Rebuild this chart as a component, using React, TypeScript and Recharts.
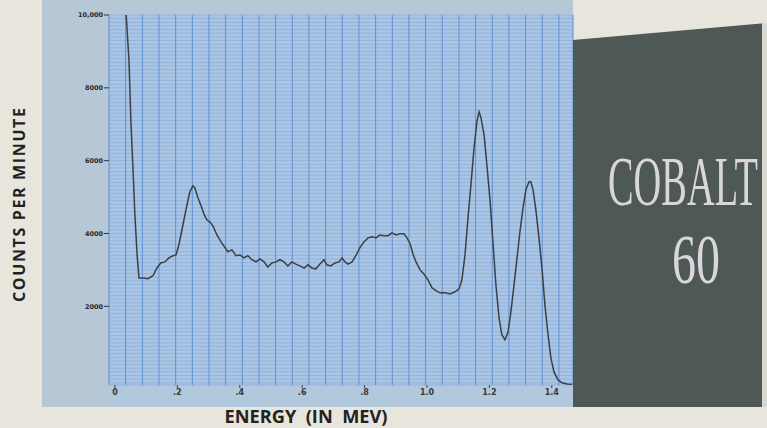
import React from 'react';
import { LineChart, Line, XAxis, YAxis, CartesianGrid } from 'recharts';

// Co-60 gamma spectrum
const energy = [
  0.036, 0.045, 0.051, 0.058, 0.064, 0.071, 0.077, 0.09, 0.106, 0.122,
  0.135, 0.147, 0.16, 0.173, 0.186, 0.196, 0.205, 0.218, 0.231, 0.24,
  0.25, 0.256, 0.266, 0.276, 0.285, 0.295, 0.304, 0.314, 0.327, 0.34,
  0.349, 0.362, 0.375, 0.388, 0.401, 0.413, 0.426, 0.439, 0.452, 0.465,
  0.478, 0.49, 0.503, 0.516, 0.529, 0.542, 0.554, 0.567, 0.58, 0.593,
  0.606, 0.619, 0.631, 0.644, 0.657, 0.67, 0.679, 0.692, 0.705, 0.718,
  0.728, 0.737, 0.747, 0.76, 0.772, 0.785, 0.798, 0.811, 0.824, 0.837,
  0.849, 0.862, 0.875, 0.888, 0.901, 0.913, 0.926, 0.936, 0.946, 0.955,
  0.965, 0.978, 0.99, 1.003, 1.016, 1.029, 1.042, 1.058, 1.074, 1.09,
  1.103, 1.112, 1.122, 1.131, 1.141, 1.151, 1.16, 1.167, 1.173, 1.183,
  1.192, 1.202, 1.212, 1.221, 1.231, 1.24, 1.25, 1.26, 1.269, 1.279,
  1.288, 1.298, 1.308, 1.317, 1.327, 1.333, 1.34, 1.349, 1.359, 1.369,
  1.378, 1.388, 1.397, 1.407, 1.42, 1.433, 1.449, 1.465,
];

const counts = [
  10000, 8770, 7120, 5750, 4510, 3420, 2780, 2780, 2760, 2840,
  3060, 3190, 3220, 3330, 3390, 3410, 3690, 4240, 4790, 5140,
  5310, 5250, 4980, 4760, 4540, 4370, 4320, 4210, 3960, 3770,
  3660, 3500, 3550, 3390, 3410, 3330, 3390, 3280, 3220, 3300,
  3220, 3080, 3190, 3220, 3280, 3220, 3110, 3220, 3160, 3110,
  3050, 3140, 3050, 3030, 3160, 3280, 3140, 3110, 3190, 3220,
  3330, 3220, 3160, 3220, 3390, 3610, 3770, 3880, 3910, 3880,
  3960, 3940, 3940, 4020, 3960, 3990, 3990, 3880, 3720, 3440,
  3220, 3000, 2890, 2730, 2510, 2430, 2370, 2370, 2340, 2400,
  2480, 2730, 3420, 4380, 5350, 6360, 7070, 7340, 7180, 6710,
  5890, 4920, 3690, 2590, 1680, 1220, 1080, 1300, 1850, 2590,
  3280, 4050, 4710, 5200, 5420, 5420, 5200, 4650, 3880, 3000,
  2040, 1220, 590, 200, -20, -100, -130, -140,
];

const xTicks = [0, 0.2, 0.4, 0.6, 0.8, 1.0, 1.2, 1.4];
const xTickLabels = ['0', '.2', '.4', '.6', '.8', '1.0', '1.2', '1.4'];
const yTicks = [2000, 4000, 6000, 8000, 10000];
const yTickLabels = ['2000', '4000', '6000', '8000', '10,000'];

const xDomain: [number, number] = [-0.019, 1.468];
const yDomain: [number, number] = [-160, 10000];

// chart-paper rulings (not data)
const paperX = Array.from({ length: 28 }, (_, k) => +(xDomain[0] + k * 0.0534).toFixed(4));
const paperY = Array.from({ length: 102 }, (_, k) => -100 + k * 100);

const data = energy.map((e, i) => ({ energy: e, counts: counts[i] }));

export default function App() {
  return (
    <div style={{ position: 'absolute', left: 0, top: 0, width: 767, height: 428, overflow: 'hidden', background: '#e7e5dc' }}>
      <svg width={767} height={428} style={{ position: 'absolute', left: 0, top: 0 }}>
        <rect x={42} y={0} width={531} height={407} fill="#b6c7d5" />
        <rect x={109} y={385} width={464} height={22} fill="#b2c8dd" />
      </svg>

      <div style={{ position: 'absolute', left: 0, top: 0 }}>
        <LineChart width={767} height={428} data={data} margin={{ top: 15, right: 194, bottom: 21, left: 49 }}>
          <XAxis xAxisId="paper" type="number" dataKey="energy" domain={xDomain} ticks={paperX} interval={0} hide allowDataOverflow />
          <YAxis yAxisId="paper" type="number" domain={yDomain} ticks={paperY} interval={0} hide allowDataOverflow />
          <CartesianGrid yAxisId="paper" xAxisId="paper" vertical={false} fill="#abc6e5" stroke="#92b3db" strokeWidth={1} />
          <CartesianGrid yAxisId="paper" xAxisId="paper" horizontal={false} stroke="#5f90d3" strokeWidth={1} />
          <XAxis
            dataKey="energy"
            type="number"
            domain={xDomain}
            ticks={xTicks}
            interval={0}
            allowDataOverflow
            axisLine={false}
            tickSize={3}
            tickMargin={1}
            height={22}
            tickLine={{ stroke: '#444' }}
            tick={{ fontSize: 8, fill: '#3a3a3a', fontFamily: 'DejaVu Sans', fontWeight: 'bold' }}
            tickFormatter={(v: number) => xTickLabels[xTicks.indexOf(v)] ?? ''}
          />
          <YAxis
            type="number"
            domain={yDomain}
            ticks={yTicks}
            interval={0}
            allowDataOverflow
            axisLine={false}
            width={60}
            tickSize={5}
            tickMargin={1}
            tickLine={{ stroke: '#333' }}
            tick={{ fontSize: 6.5, fill: '#2a2a2a', fontFamily: 'DejaVu Sans', fontWeight: 'bold' }}
            tickFormatter={(v: number) => yTickLabels[yTicks.indexOf(v)] ?? ''}
          />
          <Line
            type="linear"
            dataKey="counts"
            stroke="#3b4045"
            strokeWidth={1.5}
            dot={false}
            isAnimationActive={false}
          />
        </LineChart>
      </div>

      <svg width={767} height={428} style={{ position: 'absolute', left: 0, top: 0 }}>
        <polygon points="573,40 767,23 767,407 573,407" fill="#4e5855" />
        <rect x={762} y={23} width={5} height={384} fill="#d8d8d2" />
        <text
          transform="translate(608 205) scale(1 1.75)"
          textLength={150}
          lengthAdjust="spacingAndGlyphs"
          fontFamily="Liberation Serif"
          fontSize={40}
          fill="#d9d6dc"
        >
          COBALT
        </text>
        <text
          transform="translate(672 283) scale(1 1.75)"
          textLength={48}
          lengthAdjust="spacingAndGlyphs"
          fontFamily="Liberation Serif"
          fontSize={40}
          fill="#d9d6dc"
        >
          60
        </text>
        <text
          x={25}
          y={205}
          transform="rotate(-90 25 205)"
          textAnchor="middle"
          fontFamily="Open Sans"
          fontWeight="bold"
          fontSize={16}
          textLength={194}
          lengthAdjust="spacing"
          fill="#222"
        >
          COUNTS PER MINUTE
        </text>
        <text
          x={306}
          y={423}
          textAnchor="middle"
          fontFamily="Open Sans"
          fontWeight="bold"
          fontSize={17}
          textLength={163}
          lengthAdjust="spacingAndGlyphs"
          fill="#222"
          style={{ whiteSpace: 'pre' }}
        >
          {'ENERGY  (IN  MEV)'}
        </text>
      </svg>
    </div>
  );
}
